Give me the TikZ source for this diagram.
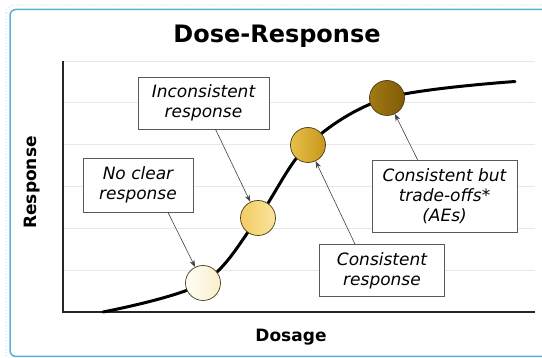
\documentclass[tikz,border=0pt]{standalone}
\usepackage{fontspec}
\setmainfont{DejaVu Sans}
\usetikzlibrary{arrows.meta}
\definecolor{frameblue}{HTML}{5AAFD6}
\definecolor{dotedge}{HTML}{4A3C12}
\definecolor{doseAa}{HTML}{FFFEF8}
\definecolor{doseAb}{HTML}{FAEFCB}
\definecolor{doseBa}{HTML}{F2CD63}
\definecolor{doseBb}{HTML}{FBE39D}
\definecolor{doseCa}{HTML}{E8C04A}
\definecolor{doseCb}{HTML}{C6961B}
\definecolor{doseDa}{HTML}{A27A14}
\definecolor{doseDb}{HTML}{7F5B05}
\begin{document}
\begin{tikzpicture}[x=1pt, y=-1pt, >={Stealth[length=7pt, width=5pt]},
  labelbox/.style={draw=black!65, fill=white, line width=0.7pt, align=center, inner sep=0pt, font=\fontsize{17}{20}\selectfont\itshape},
  dosept/.style={circle, draw=dotedge, line width=0.7pt, minimum size=35pt, inner sep=0pt, shading angle=45},
  pointer/.style={->, draw=black!75, line width=0.6pt},
  gridline/.style={draw=black!9, line width=0.8pt}]
  \clip (0,0) rectangle (542,358);
  % frame
  \draw[frameblue!35, dotted, line width=1pt, rounded corners=8pt] (6,5) rectangle (580,370);
  \draw[frameblue, line width=1.5pt, rounded corners=6pt] (10,9.5) rectangle (575,356.5);
  % grid and axes
  \foreach \gy in {61,102.8,144.6,186.4,228.2,270}
    \draw[gridline] (63,\gy) -- (535,\gy);
  \draw[black!85, line width=1.5pt] (63,61) -- (63,312) -- (535,312);
  \node[font=\fontsize{24}{28}\selectfont\bfseries, anchor=base] (title) at (277,43) {Dose-Response};
  \node[font=\fontsize{17}{20}\selectfont\bfseries, anchor=base] (xlabel) at (291,342) {Dosage};
  \node[font=\fontsize{17}{20}\selectfont\bfseries, rotate=90] (ylabel) at (32,182.5) {Response};
  % curve through the dose points
  \coordinate (p1) at (203,283);
  \coordinate (p2) at (258,218);
  \coordinate (p3) at (308,145);
  \coordinate (p4) at (387,98);
  \draw[line width=3pt, line cap=round] plot[smooth, tension=0.55] coordinates {(103,312) (p1) (p2) (p3) (p4) (515,81.5)};
  \node[dosept, left color=doseAa, right color=doseAb] (d1) at (p1) {};
  \node[dosept, left color=doseBa, right color=doseBb] (d2) at (p2) {};
  \node[dosept, left color=doseCa, right color=doseCb] (d3) at (p3) {};
  \node[dosept, left color=doseDa, right color=doseDb] (d4) at (p4) {};
  % labels
  \node[labelbox, minimum width=110pt, minimum height=54pt] (noclear) at (138,185) {No clear\\response};
  \node[labelbox, minimum width=131pt, minimum height=52pt] (inconsist) at (203.5,103) {Inconsistent\\response};
  \node[labelbox, minimum width=125pt, minimum height=52pt] (consist) at (382,270.5) {Consistent\\response};
  \node[labelbox, minimum width=145pt, minimum height=72pt] (tradeoff) at (444.5,196) {Consistent but\\trade-offs*\\(AEs)};
  \draw[pointer] ([xshift=30pt]noclear.south) -- (d1);
  \draw[pointer] ([xshift=12pt]inconsist.south) -- (d2);
  \draw[pointer] ([xshift=-27pt]consist.north) -- (d3);
  \draw[pointer] ([xshift=-27pt]tradeoff.north) -- (d4);
\end{tikzpicture}
\end{document}
